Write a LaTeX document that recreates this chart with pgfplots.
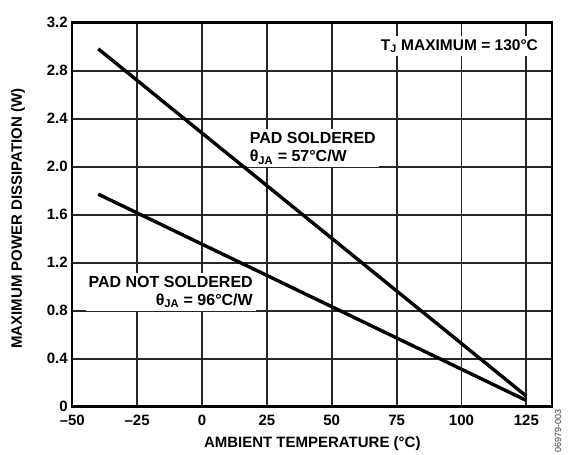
\documentclass[border=0pt]{standalone}
\usepackage{fontspec}
\setmainfont{Liberation Sans}
\usepackage{pgfplots}
\pgfplotsset{compat=1.18}
\begin{document}
\begin{tikzpicture}
\begin{axis}[
    width=480pt, height=384pt,
    scale only axis,
    xmin=-50, xmax=135,
    ymin=0, ymax=3.2,
    xtick={-50,-25,0,25,50,75,100,125},
    xticklabels={–50,–25,0,25,50,75,100,125},
    ytick={0,0.4,0.8,1.2,1.6,2.0,2.4,2.8,3.2},
    yticklabels={0,0.4,0.8,1.2,1.6,2.0,2.4,2.8,3.2},
    tick style={draw=none},
    grid=major,
    grid style={black!85, line width=1.8pt},
    axis line style={black, line width=2.4pt},
    ticklabel style={font=\fontsize{15}{17}\selectfont\bfseries},
    yticklabel style={xshift=-1pt},
    xticklabel style={yshift=-5pt},
    label style={font=\fontsize{15}{17}\selectfont\bfseries},
    xlabel={AMBIENT TEMPERATURE (°C)},
    ylabel={MAXIMUM POWER DISSIPATION (W)},
    xlabel style={at={(rel axis cs:0.5,-0.097)}, anchor=center},
    ylabel style={at={(rel axis cs:-0.113,0.49)}, anchor=center},
    clip=false,
]
\addplot[black, line width=3.4pt] coordinates {(-40,2.982) (125,0.088)};
\addplot[black, line width=3.4pt] coordinates {(-40,1.771) (125,0.052)};
\node[fill=white, inner sep=3pt, font=\fontsize{15.5}{17}\selectfont\bfseries, anchor=east]
    at (axis cs:130.7,3.006) {T\textsubscript{J} MAXIMUM = 130°C};
\node[fill=white, inner sep=3pt, align=left, anchor=north west, font=\fontsize{16}{18.4}\selectfont\bfseries]
    at (axis cs:17.2,2.317) {PAD SOLDERED\\θ\textsubscript{JA} = 57°C/W};
\node[fill=white, inner sep=3pt, align=right, anchor=north east, font=\fontsize{16}{18}\selectfont\bfseries]
    at (axis cs:20.8,1.114) {PAD NOT SOLDERED\\θ\textsubscript{JA} = 96°C/W};
\node[rotate=90, font=\fontsize{9}{10}\selectfont, anchor=south west, inner sep=0pt, text=black!75]
    at (rel axis cs:1.019,-0.121) {06979-003};
\path (rel axis cs:-0.1506,-0.1232) rectangle (rel axis cs:1.039,1.0591);
\end{axis}
\end{tikzpicture}
\end{document}
